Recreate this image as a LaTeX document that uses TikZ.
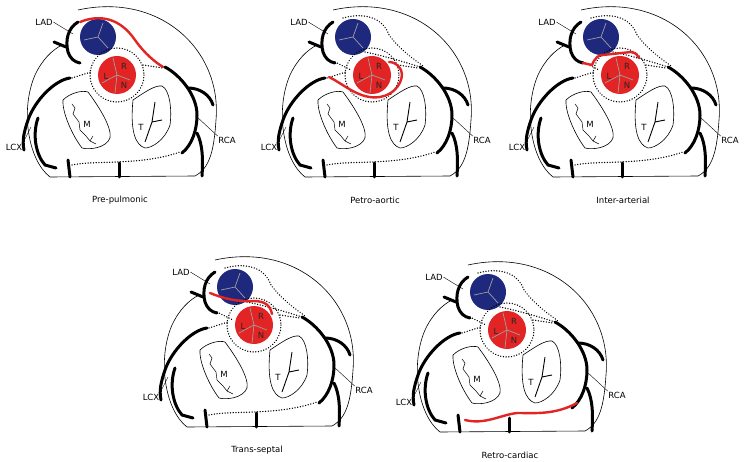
\documentclass[tikz,border=0pt]{standalone}
\usepackage{fontspec}
\setmainfont{DejaVu Sans}
\definecolor{ao}{RGB}{226,36,36}
\definecolor{pa}{RGB}{30,40,125}
\tikzset{
 vessel/.style={line width=3pt,line cap=round,black},
 thin/.style={line width=0.6pt,black},
 dots/.style={line width=1.4pt,dash pattern=on 0.1pt off 2.6pt,line cap=round},
 anom/.style={line width=2.4pt,ao,line cap=round},
 lbl/.style={font=\fontsize{8.5}{9}\selectfont,inner sep=0.5pt},
 cusp/.style={lbl,text=black!85},
 ylines/.style={line width=0.7pt,gray!75}
}
\newcommand{\heartpanel}[5]{%
\begin{scope}[shift={(#1)}]
 \draw[thin] (78,10) .. controls (160,-8) and (222,50) .. (216,120) .. controls (214,150) and (210,168) .. (195,176) -- (50,177) .. controls (28,160) and (20,110) .. (35,75) .. controls (42,60) and (52,50) .. (62,45);
 % circles
 \fill[pa] (98,37) circle (18);
 \fill[ao] (117,75) circle (19);
 \draw[ylines] (98,37) -- (103,23) (98,37) -- (84,40) (98,37) -- (108,48);
 \draw[ylines] (117,75) -- (113,58) (117,75) -- (102,83) (117,75) -- (130,80) (117,75) -- (115,93);
 \node[cusp] (l#2) at (106,76) {L};
 \node[cusp] (r#2) at (124,66) {R};
 \node[cusp] (n#2) at (124,85) {N};
 \draw[dots] (117,75) circle (27);
 \draw[dots] (72,78) -- (91,72);
 \draw[dots] (143,65) -- (163,68);
 #4
 % mitral / tricuspid
 \draw[thin] (63,100) .. controls (70,93) and (82,90) .. (88,92) .. controls (100,108) and (112,128) .. (110,138) .. controls (106,148) and (90,150) .. (82,148) .. controls (72,135) and (62,112) .. (63,100);
 \draw[line width=0.5pt] (72,104) -- (75,108) -- (73,114) -- (79,122) -- (80,130) -- (86,136) -- (90,141) -- (96,144) (90,141) -- (93,136);
 \node[lbl] (m#2) at (87,124) {M};
 \draw[thin] (133,100) .. controls (145,92) and (155,85) .. (162,86) .. controls (170,90) and (172,110) .. (170,125) .. controls (165,140) and (152,148) .. (145,148) .. controls (135,145) and (130,130) .. (133,100);
 \draw[line width=0.9pt] (155,102) -- (152,122) -- (145,142) (152,122) -- (162,120);
 \node[lbl] (t#2) at (141,127) {T};
 % vessels
 \draw[vessel] (78,22) .. controls (68,28) and (65,40) .. (68,52) .. controls (70,58) and (74,62) .. (80,63);
 \draw[vessel] (54,42) -- (66,47);
 \draw[vessel] (70,78) .. controls (55,80) and (35,100) .. (28,120) .. controls (24,132) and (22,140) .. (24,150);
 \draw[vessel] (38,118) .. controls (32,135) and (36,155) .. (45,165) -- (56,168);
 \draw[vessel] (68,160) -- (70,177);
 \draw[vessel] (119,163) -- (119,177);
 \draw[vessel] (165,67) .. controls (180,75) and (197,95) .. (197,115) .. controls (197,130) and (192,145) .. (182,153);
 \draw[vessel] (188,88) .. controls (200,88) and (210,95) .. (213,105);
 \draw[vessel] (197,133) .. controls (203,145) and (203,160) .. (202,176);
 #5
 % labels
 \node[lbl] (lad#2) at (44,22) {LAD};
 \draw[thin,line width=0.4pt] (lad#2.east) -- (73,34);
 \node[lbl] (lcx#2) at (14,147) {LCX};
 \draw[thin,line width=0.4pt] (lcx#2.north east) -- (31,127);
 \node[lbl] (rca#2) at (227,140) {RCA};
 \draw[thin,line width=0.4pt] (rca#2.north west) -- (197,117);
 \node[lbl] (cap#2) at (120,200) {#3};
\end{scope}}
\newcommand{\upperdots}{\draw[dots] (88,18) .. controls (110,12) and (128,18) .. (134,35) .. controls (145,50) and (160,60) .. (168,66);
 \draw[dots] (110,52) .. controls (125,55) and (150,62) .. (165,67);
 \draw[dots] (80,62) -- (96,70);}
\newcommand{\lowerdots}{\draw[dots] (72,165) .. controls (95,160) and (140,166) .. (180,152);}
\begin{document}
\begin{tikzpicture}[x=1pt,y=-1pt]
\useasboundingbox (0,0) rectangle (746,462);
\heartpanel{0,0}{a}{Pre-pulmonic}{\lowerdots}{\draw[anom] (80,22) .. controls (100,14) and (120,18) .. (135,40) .. controls (145,54) and (155,62) .. (163,67);}
\heartpanel{255,0}{b}{Petro-aortic}{\upperdots\lowerdots}{\draw[anom] (74,77) .. controls (90,85) and (105,100) .. (125,97) .. controls (140,95) and (150,80) .. (146,70) .. controls (143,64) and (138,62) .. (134,62);}
\heartpanel{503,0}{c}{Inter-arterial}{\upperdots\lowerdots}{\draw[anom] (80,63) -- (89,65) .. controls (92,58) and (95,55) .. (100,55) -- (128,52) .. controls (133,53) and (135,55) .. (136,58);}
\heartpanel{137,250}{d}{Trans-septal}{\upperdots\lowerdots}{\draw[anom] (73,43) .. controls (85,48) and (100,52) .. (116,51) .. controls (128,51) and (133,55) .. (135,64);}
\heartpanel{390,255}{e}{Retro-cardiac}{\upperdots}{\draw[anom] (75,165) .. controls (95,170) and (110,160) .. (127,158) .. controls (145,158) and (165,160) .. (187,148);}
\end{tikzpicture}
\end{document}
